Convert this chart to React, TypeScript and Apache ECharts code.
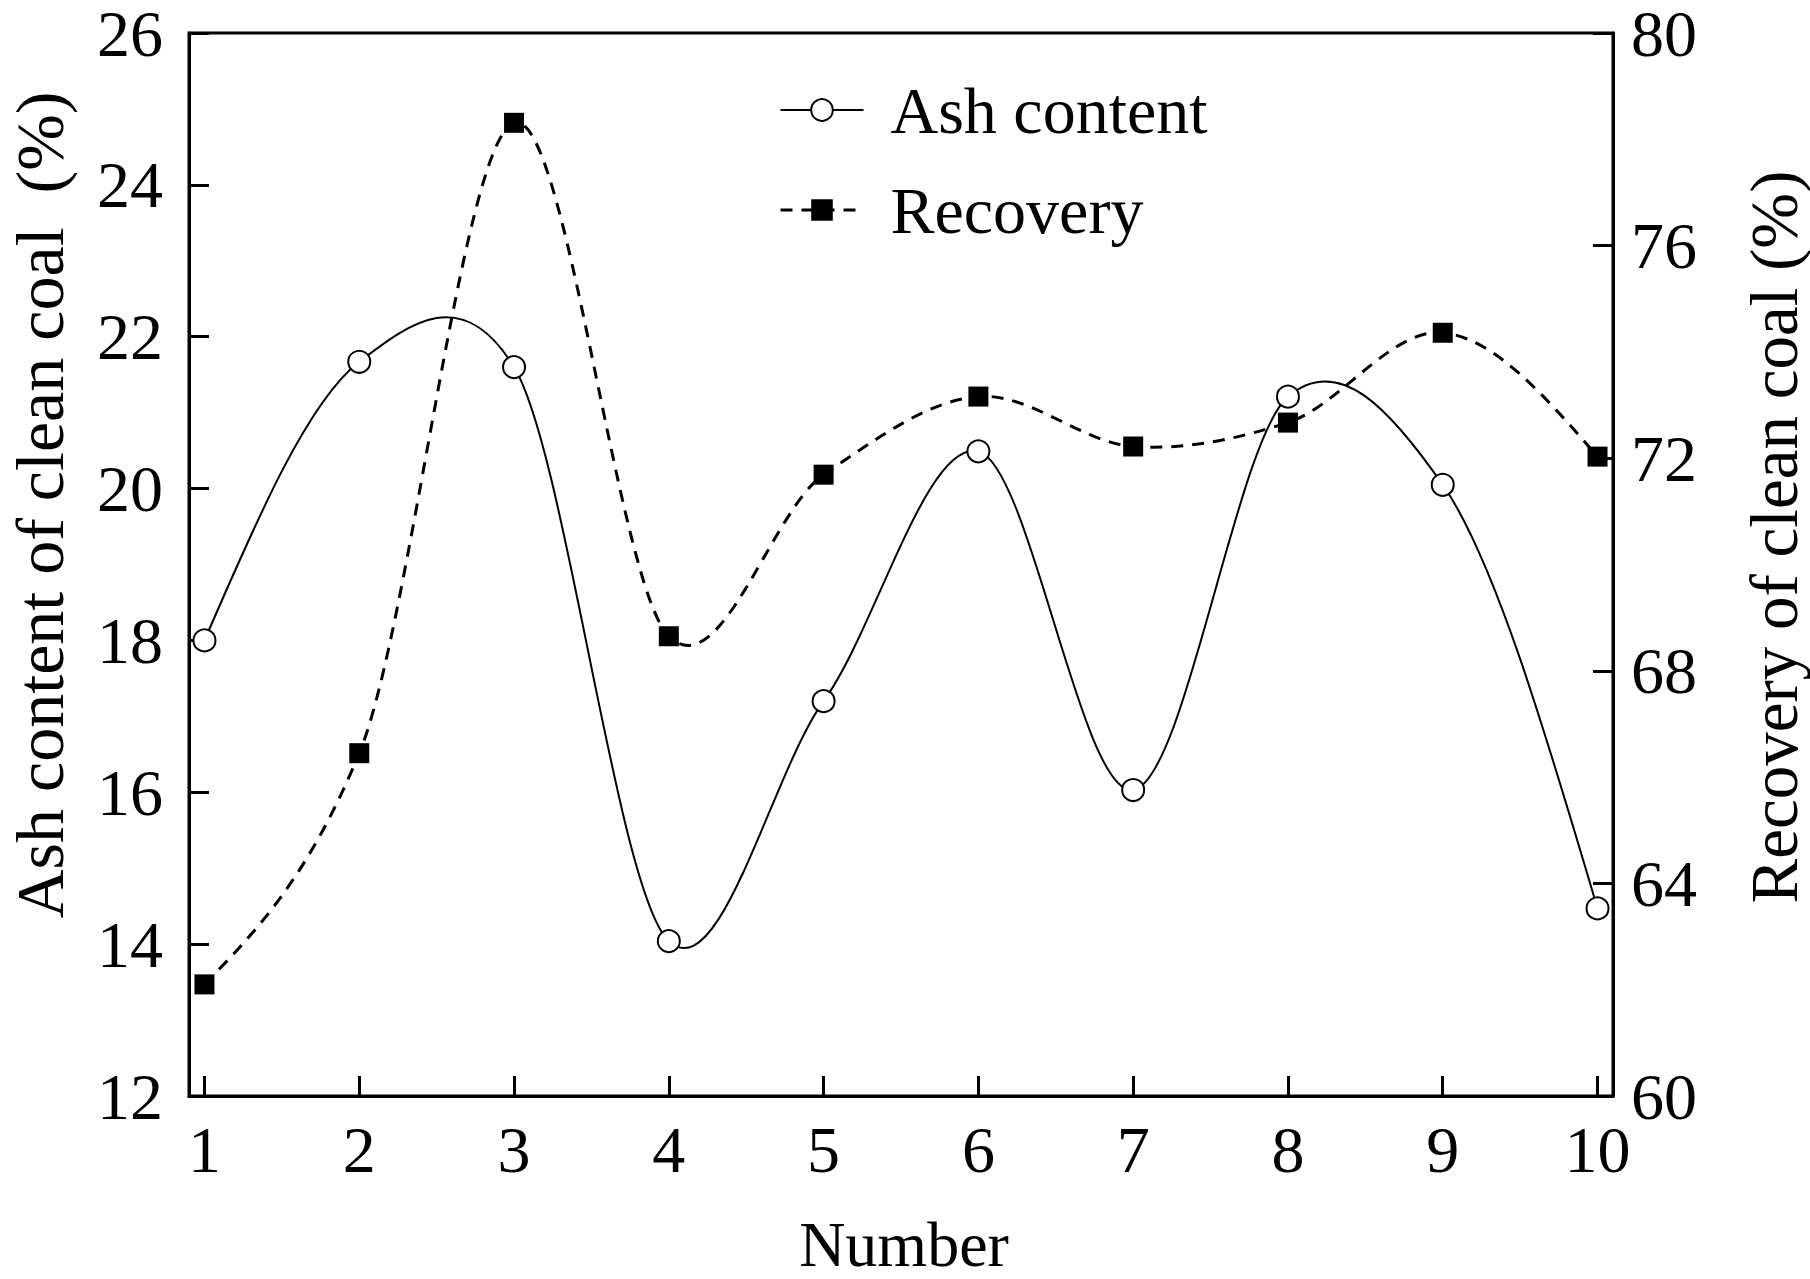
import React, { useEffect, useRef } from "react";
import * as echarts from "echarts";

const numbers = [1, 2, 3, 4, 5, 6, 7, 8, 9, 10];
const ashContent = [18.0, 21.67, 21.6, 14.04, 17.2, 20.49, 16.03, 21.21, 20.05, 14.47];
const recovery = [62.1, 66.45, 78.31, 68.65, 71.69, 73.16, 72.22, 72.67, 74.36, 72.03];
const leftTicks = { min: 12, max: 26, interval: 2 };
const rightTicks = { min: 60, max: 80, interval: 4 };

const FONT = "'Liberation Serif', 'Times New Roman', serif";

// Cardinal (Catmull-Rom style) spline through pixel points, as SVG path data
function splinePath(pts: number[][], tension = 0.87): string {
  const n = pts.length;
  const x = pts.map((p) => p[0]);
  const y = pts.map((p) => p[1]);
  const m = new Array(n).fill(0);
  for (let i = 1; i < n - 1; i++) {
    m[i] = (tension * (y[i + 1] - y[i - 1])) / (x[i + 1] - x[i - 1]);
  }
  // natural-type end conditions
  m[0] = (3 * (y[1] - y[0]) / (x[1] - x[0]) - m[1]) / 2;
  m[n - 1] = (3 * (y[n - 1] - y[n - 2]) / (x[n - 1] - x[n - 2]) - m[n - 2]) / 2;
  let d = `M${x[0]},${y[0]}`;
  for (let i = 0; i < n - 1; i++) {
    const h = x[i + 1] - x[i];
    const c1x = x[i] + h / 3, c1y = y[i] + (m[i] * h) / 3;
    const c2x = x[i + 1] - h / 3, c2y = y[i + 1] - (m[i + 1] * h) / 3;
    d += ` C${c1x},${c1y} ${c2x},${c2y} ${x[i + 1]},${y[i + 1]}`;
  }
  return d;
}

function curveSeries(name: string, values: number[], yAxisIndex: number, lineStyle: any) {
  return {
    name,
    type: "custom",
    yAxisIndex,
    data: numbers.map((n, i) => [n, values[i]]),
    encode: { x: 0, y: 1 },
    silent: true,
    z: 2,
    renderItem: (params: any, api: any) => {
      if (params.dataIndex !== 0) return null;
      const pts = numbers.map((n, i) => api.coord([n, values[i]]));
      return {
        type: "path",
        shape: { pathData: splinePath(pts) },
        style: { fill: "none", stroke: "#000", ...lineStyle },
      };
    },
  };
}

export default function App() {
  const ref = useRef<HTMLDivElement>(null);
  useEffect(() => {
    document.body.style.margin = "0";
    if (!ref.current) return;
    const chart = echarts.init(ref.current, undefined, { renderer: "svg" });
    const axisLine = { show: true, lineStyle: { color: "#000", width: 3 } };
    const tick = { show: true, inside: true, length: 20, lineStyle: { color: "#000", width: 3 } };
    const label = { color: "#000", fontSize: 66, lineHeight: 48, fontFamily: FONT };
    chart.setOption({
      animation: false,
      backgroundColor: "#fff",
      textStyle: { fontFamily: FONT },
      grid: {
        left: 189,
        right: 197,
        top: 32,
        bottom: 183,
        show: true,
        borderColor: "#000",
        borderWidth: 3,
        containLabel: false,
      },
      legend: {
        orient: "vertical",
        left: 774,
        top: 72,
        itemWidth: 83,
        itemHeight: 27,
        itemGap: 34,
        textStyle: { color: "#000", fontSize: 66, fontFamily: FONT, padding: [0, 0, 0, 22] },
        data: [
          { name: "Ash content", lineStyle: { opacity: 1, width: 2, color: "#000", type: "solid" } },
          { name: "Recovery", lineStyle: { opacity: 1, width: 3, color: "#000", type: [12, 9] } },
        ],
      },
      xAxis: {
        type: "value",
        min: 0.9,
        max: 10.1,
        axisLine,
        axisTick: { ...tick, customValues: numbers },
        axisLabel: { ...label, margin: 29, customValues: numbers },
        splitLine: { show: false },
      },
      yAxis: [
        {
          type: "value",
          min: leftTicks.min,
          max: leftTicks.max,
          interval: leftTicks.interval,
          axisLine,
          axisTick: tick,
          axisLabel: { ...label, margin: 26 },
          splitLine: { show: false },
        },
        {
          type: "value",
          position: "right",
          min: rightTicks.min,
          max: rightTicks.max,
          interval: rightTicks.interval,
          axisLine,
          axisTick: tick,
          axisLabel: { ...label, margin: 18 },
          splitLine: { show: false },
        },
      ],
      series: [
        curveSeries("ashCurve", ashContent, 0, { lineWidth: 2 }),
        curveSeries("recoveryCurve", recovery, 1, { lineWidth: 3, lineDash: [12, 9] }),
        {
          name: "Ash content",
          type: "line",
          yAxisIndex: 0,
          data: numbers.map((n, i) => [n, ashContent[i]]),
          symbol: "circle",
          symbolSize: 22,
          lineStyle: { color: "#000", width: 2, opacity: 0 },
          itemStyle: { color: "#fff", borderColor: "#000", borderWidth: 2 },
          z: 3,
        },
        {
          name: "Recovery",
          type: "line",
          yAxisIndex: 1,
          data: numbers.map((n, i) => [n, recovery[i]]),
          symbol: "rect",
          symbolSize: 20,
          lineStyle: { color: "#000", width: 3, type: [12, 9], opacity: 0 },
          itemStyle: { color: "#000" },
          z: 4,
        },
      ],
      graphic: [
        {
          type: "text",
          x: 40,
          y: 505,
          rotation: Math.PI / 2,
          style: {
            text: "Ash content of clean coal  (%)",
            fontSize: 68,
            lineHeight: 60,
            fontFamily: FONT,
            fill: "#000",
            align: "center",
            verticalAlign: "middle",
          },
        },
        {
          type: "text",
          x: 1774,
          y: 537,
          rotation: Math.PI / 2,
          style: {
            text: "Recovery of clean coal (%)",
            fontSize: 67,
            lineHeight: 60,
            fontFamily: FONT,
            fill: "#000",
            align: "center",
            verticalAlign: "middle",
          },
        },
        {
          type: "text",
          x: 904,
          y: 1244,
          style: {
            text: "Number",
            fontSize: 64,
            lineHeight: 60,
            fontFamily: FONT,
            fill: "#000",
            align: "center",
            verticalAlign: "middle",
          },
        },
      ],
    });
    return () => chart.dispose();
  }, []);
  return <div ref={ref} style={{ width: 1810, height: 1279 }} />;
}
